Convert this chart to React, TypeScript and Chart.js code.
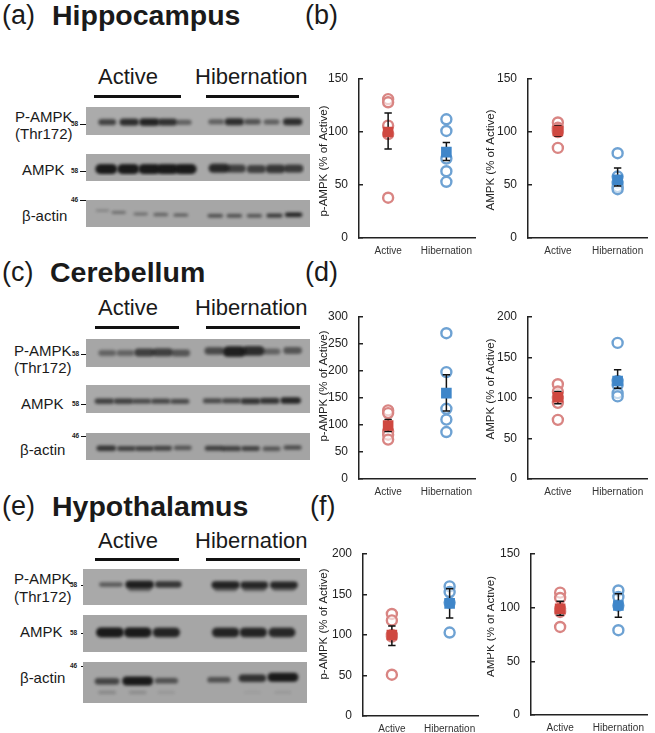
import React, { useEffect, useRef } from "react";
import { Chart, registerables } from "chart.js";

Chart.register(...registerables);

const FONT = '"Liberation Sans", Arial, sans-serif';
const groups = ["Active", "Hibernation"];

// ---- scatter values ----
const bPActive = [131, 128, 106, 98, 38];
const bPHiber = [112, 101, 75, 63, 53];
const bPMeans = [100, 81];
const bPLow = [84, 73];
const bPHigh = [118, 90];

const bTActive = [109, 104, 102, 100, 85];
const bTHiber = [80, 58, 52, 48, 46];
const bTMeans = [101, 55];
const bTLow = [96, 49];
const bTHigh = [106, 66];

const dPActive = [127, 122, 88, 82, 73];
const dPHiber = [270, 198, 130, 110, 87];
const dPMeans = [99, 159];
const dPLow = [88, 126];
const dPHigh = [110, 193];

const dTActive = [117, 108, 100, 94, 73];
const dTHiber = [168, 121, 116, 106, 102];
const dTMeans = [101, 121];
const dTLow = [93, 112];
const dTHigh = [108, 135];

const fPActive = [126, 118, 100, 98, 51];
const fPHiber = [160, 153, 140, 103];
const fPMeans = [100, 139];
const fPLow = [87, 121];
const fPHigh = [111, 157];

const fTActive = [114, 109, 99, 96, 82];
const fTHiber = [116, 110, 102, 79];
const fTMeans = [99, 102];
const fTLow = [93, 91];
const fTHigh = [106, 113];

// ---- blot band values: lane position, band height in the panel (%), band strength ----
const hippoPLanes = [17, 40, 61, 80, 97, 131, 150, 169, 189, 211];
const hippoPRows = [56, 56, 56, 56, 57, 54, 54, 54, 55, 54];
const hippoPLevels = [0.6, 0.8, 0.9, 0.75, 0.35, 0.35, 0.8, 0.45, 0.35, 0.8];
const hippoTLanes = [16, 39, 61, 80, 99, 134, 152, 173, 193, 212];
const hippoTRows = [59, 59, 59, 59, 59, 54, 56, 59, 58, 56];
const hippoTLevels = [1, 1, 1, 1, 1, 0.85, 0.6, 0.6, 0.7, 0.65];
const hippoALanes = [12, 29, 52, 73, 94, 130, 150, 171, 192, 212];
const hippoARows = [33, 43, 52, 56, 59, 63, 63, 63, 62, 57];
const hippoALevels = [0.1, 0.25, 0.25, 0.35, 0.35, 0.5, 0.5, 0.45, 0.65, 0.9];

const cereP1Lanes = [17, 36, 56, 75, 94, 129, 150, 170, 189, 211];
const cerePRows = [50, 50, 47, 46, 50, 38, 42, 38, 42, 36];
const cerePLevels = [0.3, 0.3, 0.6, 0.6, 0.4, 0.5, 0.95, 0.8, 0.3, 0.4];
const cereTLanes = [14, 34, 53, 73, 93, 127, 147, 167, 187, 209];
const cereTRows = [62, 62, 62, 62, 63, 60, 60, 62, 60, 58];
const cereTLevels = [0.6, 0.6, 0.5, 0.55, 0.5, 0.5, 0.55, 0.7, 0.7, 0.85];
const cereALanes = [16, 37, 56, 75, 96, 129, 147, 167, 189, 211];
const cereARows = [60, 62, 62, 60, 58, 60, 62, 62, 63, 56];
const cereALevels = [0.7, 0.55, 0.55, 0.55, 0.4, 0.6, 0.6, 0.55, 0.4, 0.45];

const hypoPLanes = [24, 54, 84, 144, 174, 205];
const hypoPRows = [40, 40, 40, 42, 42, 42];
const hypoPLevels = [0.35, 0.95, 0.7, 0.9, 0.85, 0.85];
const hypoP2Rows = [58, 58, 58, 58, 58, 58];
const hypoP2Levels = [0, 0.25, 0, 0.25, 0.25, 0.2];
const hypoTLanes = [23, 52, 82, 144, 173, 203];
const hypoTRows = [46, 46, 46, 46, 46, 46];
const hypoTLevels = [1, 1, 0.9, 0.9, 0.9, 0.85];
const hypoALanes = [20, 52, 82, 137, 172, 204];
const hypoARows = [46, 45, 44, 41, 36, 33];
const hypoALevels = [0.55, 1, 0.45, 0.45, 0.75, 1];
const hypoA2Rows = [82, 82, 82, 82, 82, 82];
const hypoA2Levels = [0.08, 0.06, 0.03, 0, 0.01, 0.02];

// ---- layout tables ----
type Band = { lanes: number[]; rows: number[]; levels: number[] };
const blots: { x: number; y: number; w: number; h: number; bg: string; wMin: number; wMax: number; hMin: number; hMax: number; bands: Band[] }[] = [
  { x: 86, y: 107, w: 224, h: 28, bg: "#ababab", wMin: 13, wMax: 21, hMin: 3.5, hMax: 8, bands: [{ lanes: hippoPLanes, rows: hippoPRows, levels: hippoPLevels }] },
  { x: 86, y: 154, w: 224, h: 27, bg: "#a8a8a8", wMin: 15, wMax: 22, hMin: 4.5, hMax: 10, bands: [{ lanes: hippoTLanes, rows: hippoTRows, levels: hippoTLevels }] },
  { x: 86, y: 200, w: 224, h: 27, bg: "#a6a6a6", wMin: 13, wMax: 18, hMin: 2, hMax: 5, bands: [{ lanes: hippoALanes, rows: hippoARows, levels: hippoALevels }] },
  { x: 86, y: 339, w: 224, h: 28, bg: "#a6a6a6", wMin: 15, wMax: 24, hMin: 4, hMax: 11, bands: [{ lanes: cereP1Lanes, rows: cerePRows, levels: cerePLevels }] },
  { x: 86, y: 385, w: 224, h: 28, bg: "#a9a9a9", wMin: 17, wMax: 21, hMin: 3, hMax: 7, bands: [{ lanes: cereTLanes, rows: cereTRows, levels: cereTLevels }] },
  { x: 86, y: 433, w: 224, h: 27, bg: "#a4a4a4", wMin: 16, wMax: 21, hMin: 3, hMax: 6.5, bands: [{ lanes: cereALanes, rows: cereARows, levels: cereALevels }] },
  { x: 83, y: 569, w: 224, h: 36, bg: "#a9a9a9", wMin: 21, wMax: 29, hMin: 3, hMax: 8, bands: [{ lanes: hypoPLanes, rows: hypoP2Rows, levels: hypoP2Levels }, { lanes: hypoPLanes, rows: hypoPRows, levels: hypoPLevels }] },
  { x: 83, y: 615, w: 224, h: 37, bg: "#a6a6a6", wMin: 22, wMax: 28, hMin: 6, hMax: 10, bands: [{ lanes: hypoTLanes, rows: hypoTRows, levels: hypoTLevels }] },
  { x: 83, y: 662, w: 224, h: 41, bg: "#a5a5a5", wMin: 17, wMax: 31, hMin: 3, hMax: 9, bands: [{ lanes: hypoALanes, rows: hypoA2Rows, levels: hypoA2Levels }, { lanes: hypoALanes, rows: hypoARows, levels: hypoALevels }] },
];

const plots = [
  { left: 359, right: 481, top: 79, bottom: 238, max: 150, step: 50, title: "p-AMPK (% of Active)", shift: 2.5, gap: 35, a: bPActive, h: bPHiber, m: bPMeans, lo: bPLow, hi: bPHigh },
  { left: 528, right: 653, top: 79, bottom: 238, max: 150, step: 50, title: "AMPK (% of Active)", shift: 1.5, gap: 37, a: bTActive, h: bTHiber, m: bTMeans, lo: bTLow, hi: bTHigh },
  { left: 359, right: 481, top: 317, bottom: 479, max: 300, step: 50, title: "p-AMPK (% of Active)", shift: -12, gap: 35, a: dPActive, h: dPHiber, m: dPMeans, lo: dPLow, hi: dPHigh },
  { left: 528, right: 653, top: 317, bottom: 479, max: 200, step: 50, title: "AMPK (% of Active)", shift: -9, gap: 37, a: dTActive, h: dTHiber, m: dTMeans, lo: dTLow, hi: dTHigh },
  { left: 363, right: 484, top: 554, bottom: 716, max: 200, step: 50, title: "p-AMPK (% of Active)", shift: -11, gap: 39, a: fPActive, h: fPHiber, m: fPMeans, lo: fPLow, hi: fPHigh },
  { left: 531, right: 653, top: 554, bottom: 715, max: 150, step: 50, title: "AMPK (% of Active)", shift: -8, gap: 40, a: fTActive, h: fTHiber, m: fTMeans, lo: fTLow, hi: fTHigh },
];

const texts: [string, number, number, number, boolean][] = [
  ["(a)", 2, 15, 27, false], ["Hippocampus", 52, 15, 28.5, true], ["(b)", 305, 15, 27, false],
  ["(c)", 2, 272, 27, false], ["Cerebellum", 50, 272, 28.5, true], ["(d)", 305, 272, 27, false],
  ["(e)", 2, 506, 27, false], ["Hypothalamus", 52, 506, 28.5, true], ["(f)", 310, 506, 27, false],
  ["Active", 98, 77, 22, false], ["Hibernation", 195, 77, 22, false],
  ["Active", 98, 308, 22, false], ["Hibernation", 195, 308, 22, false],
  ["Active", 98, 541, 22, false], ["Hibernation", 195, 541, 22, false],
  ["P-AMPK", 15, 116, 15, false], ["(Thr172)", 15, 133, 15, false], ["AMPK", 22, 169, 15, false], ["β-actin", 22, 215, 15, false],
  ["P-AMPK", 14, 350, 15, false], ["(Thr172)", 14, 367, 15, false], ["AMPK", 21, 403, 15, false], ["β-actin", 20, 449, 15, false],
  ["P-AMPK", 14, 578, 15, false], ["(Thr172)", 14, 596, 15, false], ["AMPK", 20, 631, 15, false], ["β-actin", 20, 677, 15, false],
  ["58", 71, 124, 6.5, true], ["58", 71, 171, 6.5, true], ["46", 71, 200, 6.5, true],
  ["58", 72, 354, 6.5, true], ["58", 72, 404, 6.5, true], ["46", 72, 436, 6.5, true],
  ["58", 70, 585, 6.5, true], ["58", 70, 633, 6.5, true], ["46", 70, 666, 6.5, true],
];

const rules: [number, number, number, number][] = [
  [94, 95, 87, 3], [206, 95, 93, 3], [95, 326, 84, 3], [206, 326, 94, 3], [95, 558, 84, 3], [206, 558, 94, 3],
  [80, 123.5, 10, 1], [80, 170.5, 10, 1], [80, 200, 9, 1],
  [81, 353.5, 10, 1], [81, 404, 10, 1], [81, 436, 9, 1],
  [81, 584.5, 10, 1], [81, 632.5, 9, 1], [81, 665.5, 9, 1],
];

function bandImage(w: number, h: number, level: number): HTMLCanvasElement {
  const c = document.createElement("canvas");
  c.width = Math.ceil(w + 10);
  c.height = Math.ceil(h + 10);
  const g = c.getContext("2d")!;
  g.filter = "blur(1.5px)";
  g.fillStyle = `rgba(22,22,22,${0.97 * Math.pow(level, 0.6)})`;
  g.beginPath();
  g.roundRect((c.width - w) / 2, (c.height - h) / 2, w, h, h / 2);
  g.fill();
  return c;
}

function Blot({ b }: { b: (typeof blots)[number] }) {
  const ref = useRef<HTMLCanvasElement>(null);
  useEffect(() => {
    const chart = new Chart(ref.current!, {
      type: "scatter",
      data: {
        datasets: b.bands.map((band) => ({
          data: band.lanes.map((x, i) => ({ x, y: band.rows[i] })),
          pointStyle: band.levels.map((l) =>
            bandImage(b.wMin + (b.wMax - b.wMin) * l, b.hMin + (b.hMax - b.hMin) * l, l)
          ),
          pointRadius: 4,
        })),
      } as any,
      options: {
        responsive: false,
        animation: false,
        events: [],
        layout: { padding: 0 },
        plugins: { legend: { display: false }, tooltip: { enabled: false } },
        scales: {
          x: { display: false, min: 0, max: b.w },
          y: { display: false, min: 0, max: 100, reverse: true },
        },
      } as any,
    });
    return () => chart.destroy();
  }, [b]);
  return (
    <canvas
      ref={ref}
      width={b.w}
      height={b.h}
      style={{ position: "absolute", left: b.x, top: b.y, width: b.w, height: b.h, background: b.bg }}
    />
  );
}

const RED_LINE = "#d98583";
const BLUE_LINE = "#6ea2d3";
const RED_FILL = "#cf4840";
const BLUE_FILL = "#3f86c9";
const INK = "#222222";
const PAD_LEFT = 44;
const PAD_TOP = 8;

const errorBars = {
  id: "errorBars",
  afterDatasetDraw(chart: any, args: any, opts: any) {
    if (args.index !== 2) return;
    const { ctx, scales } = chart;
    ctx.save();
    ctx.strokeStyle = "#111";
    ctx.lineWidth = 1.5;
    groups.forEach((g, i) => {
      const x = scales.x.getPixelForValue(i);
      const lo = scales.y.getPixelForValue(opts.lo[i]);
      const hi = scales.y.getPixelForValue(opts.hi[i]);
      ctx.beginPath();
      ctx.moveTo(x, lo);
      ctx.lineTo(x, hi);
      ctx.moveTo(x - 3.7, lo);
      ctx.lineTo(x + 3.7, lo);
      ctx.moveTo(x - 3.7, hi);
      ctx.lineTo(x + 3.7, hi);
      ctx.stroke();
    });
    ctx.restore();
  },
};

const axisCaption = {
  id: "axisCaption",
  afterDraw(chart: any, _a: any, opts: any) {
    const { ctx, chartArea, options } = chart;
    ctx.save();
    ctx.translate(chartArea.left - opts.gap, (chartArea.top + chartArea.bottom) / 2 + opts.shift);
    ctx.rotate(-Math.PI / 2);
    ctx.font = `11.5px ${FONT}`;
    ctx.fillStyle = INK;
    ctx.textAlign = "center";
    ctx.textBaseline = "middle";
    ctx.fillText(options.scales.y.title.text, 0, 0);
    ctx.restore();
  },
};

function Plot({ p }: { p: (typeof plots)[number] }) {
  const ref = useRef<HTMLCanvasElement>(null);
  useEffect(() => {
    const open = (values: number[], g: string, color: string) => ({
      data: values.map((y) => ({ x: g, y })),
      pointStyle: "circle",
      pointRadius: 5,
      borderWidth: 2.4,
      pointBorderColor: color,
      pointBackgroundColor: "rgba(255,255,255,0.6)",
    });
    const mean = (v: number, g: string, color: string) => ({
      data: [{ x: g, y: v }],
      pointStyle: "rect",
      pointRadius: 7.5,
      borderWidth: 0,
      pointBorderColor: color,
      pointBackgroundColor: color,
    });
    const chart = new Chart(ref.current!, {
      type: "scatter",
      data: {
        datasets: [
          mean(p.m[0], groups[0], RED_FILL),
          mean(p.m[1], groups[1], BLUE_FILL),
          open(p.a, groups[0], RED_LINE),
          open(p.h, groups[1], BLUE_LINE),
        ],
      } as any,
      options: {
        responsive: false,
        animation: false,
        events: [],
        layout: { padding: { top: PAD_TOP, right: 2, left: 0, bottom: 0 } },
        plugins: {
          legend: { display: false },
          tooltip: { enabled: false },
          errorBars: { lo: p.lo, hi: p.hi },
          axisCaption: { gap: p.gap, shift: p.shift },
        },
        scales: {
          x: {
            type: "category",
            labels: groups,
            offset: true,
            grid: { display: false, drawTicks: false },
            border: { display: true, color: INK, width: 1.5 },
            ticks: { color: "#333", font: { family: FONT, size: 10 }, padding: 7, maxRotation: 0, autoSkip: false },
            afterFit: (s: any) => {
              s.height = 17;
              s.paddingLeft = 0;
              s.paddingRight = 0;
              s.paddingTop = 0;
              s.paddingBottom = 0;
            },
          },
          y: {
            min: 0,
            max: p.max,
            title: { display: false, text: p.title },
            grid: { drawOnChartArea: false, drawTicks: true, tickLength: -4, color: INK, lineWidth: 1.5 },
            border: { display: true, color: INK, width: 1.5 },
            ticks: { stepSize: p.step, color: INK, font: { family: FONT, size: 12 }, padding: 15 },
            afterFit: (s: any) => {
              s.width = PAD_LEFT;
              s.paddingLeft = 0;
              s.paddingRight = 0;
              s.paddingTop = 0;
              s.paddingBottom = 0;
            },
          },
        },
      } as any,
      plugins: [errorBars, axisCaption],
    });
    return () => chart.destroy();
  }, [p]);
  const w = p.right - p.left + PAD_LEFT + 2;
  const h = p.bottom - p.top + PAD_TOP + 17;
  return (
    <canvas
      ref={ref}
      width={w}
      height={h}
      style={{ position: "absolute", left: p.left - PAD_LEFT, top: p.top - PAD_TOP, width: w, height: h }}
    />
  );
}

export default function App() {
  useEffect(() => {
    document.body.style.margin = "0";
    document.body.style.background = "#fff";
  }, []);
  return (
    <div style={{ position: "relative", width: 655, height: 733, overflow: "hidden", background: "#fff", fontFamily: FONT, filter: "blur(0.45px)" }}>
      {texts.map(([t, x, y, size, bold], i) => (
        <div
          key={i}
          style={{
            position: "absolute",
            left: x,
            top: y,
            transform: "translateY(-50%)",
            fontSize: size,
            fontWeight: bold ? 700 : 400,
            color: "#1a1a1a",
            lineHeight: 1,
            whiteSpace: "nowrap",
          }}
        >
          {t}
        </div>
      ))}
      {rules.map(([x, y, w, h], i) => (
        <div key={i} style={{ position: "absolute", left: x, top: y, width: w, height: h, background: "#111" }} />
      ))}
      {blots.map((b, i) => <Blot key={i} b={b} />)}
      {plots.map((p, i) => <Plot key={i} p={p} />)}
    </div>
  );
}
